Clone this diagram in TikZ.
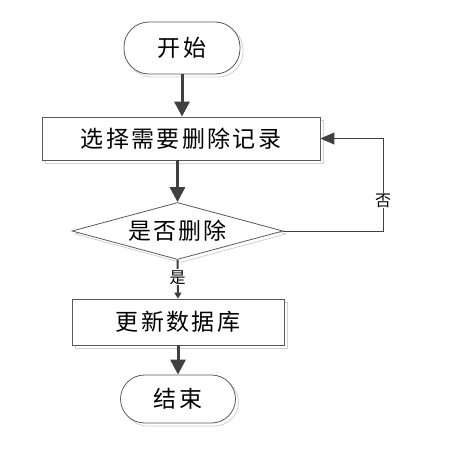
\documentclass[tikz,border=0pt]{standalone}
\usepackage{fontspec}
\newfontfamily\cjk[LetterSpace=10]{Noto Sans CJK SC}
\newfontfamily\cjktag{Noto Sans CJK SC}
\usetikzlibrary{arrows.meta,shapes.geometric,shadows}
\definecolor{linegray}{RGB}{64,64,64}
\definecolor{edgegray}{RGB}{90,90,90}
\tikzset{
  shade/.style={copy shadow={shadow xshift=3pt, shadow yshift=-3pt, draw=black!18, fill=white}},
  term/.style={draw=edgegray, fill=white, line width=0.8pt, rounded corners=25pt, shade,
    font=\cjk\fontsize{23}{26}\selectfont},
  proc/.style={draw=edgegray, fill=white, line width=0.8pt, shade,
    font=\cjk\fontsize{23}{26}\selectfont},
  decision/.style={diamond, aspect=3.7, inner sep=0pt, draw=edgegray, fill=white, line width=0.8pt, shade,
    font=\cjk\fontsize{23}{26}\selectfont},
  flow/.style={draw=linegray, line width=3pt, -{Triangle[length=15pt,width=15pt]}},
  back/.style={draw=linegray, line width=1pt, -{Triangle[length=14pt,width=12pt]}},
  yes/.style={draw=linegray, line width=2pt, -{Triangle[length=6pt,width=7pt]}},
  tag/.style={fill=white, inner sep=1pt, font=\cjktag\fontsize{16}{19}\selectfont}
}

\begin{document}
\begin{tikzpicture}[x=1pt, y=-1pt]
  \useasboundingbox (0,0) rectangle (453,452);
  % nodes
  \node[term, minimum width=116pt, minimum height=52pt] (start) at (182,48) {开始};
  \node[proc, minimum width=278pt, minimum height=43pt] (select) at (181,138.5) {选择需要删除记录};
  \node[decision, minimum width=211pt, minimum height=57pt] (ask) at (177.5,231) {是否删除};
  \node[proc, minimum width=212pt, minimum height=46pt] (update) at (178,322) {更新数据库};
  \node[term, minimum width=115pt, minimum height=48pt, rounded corners=24pt] (stop) at (178,399) {结束};
  \coordinate (turn) at (383,231);
  % connectors
  \draw[flow] (start.south) -- (start.south |- select.north);
  \draw[flow] (select.south -| ask.north) -- (ask.north);
  \draw[yes] (ask.south) -- node[tag, pos=0.45] {是} (update.north);
  \draw[flow] (update.south) -- (stop.north);
  \draw[back] (ask.east) -- (turn) -- node[tag, pos=0.33] {否} (turn |- select.east) -- (select.east);
\end{tikzpicture}
\end{document}
